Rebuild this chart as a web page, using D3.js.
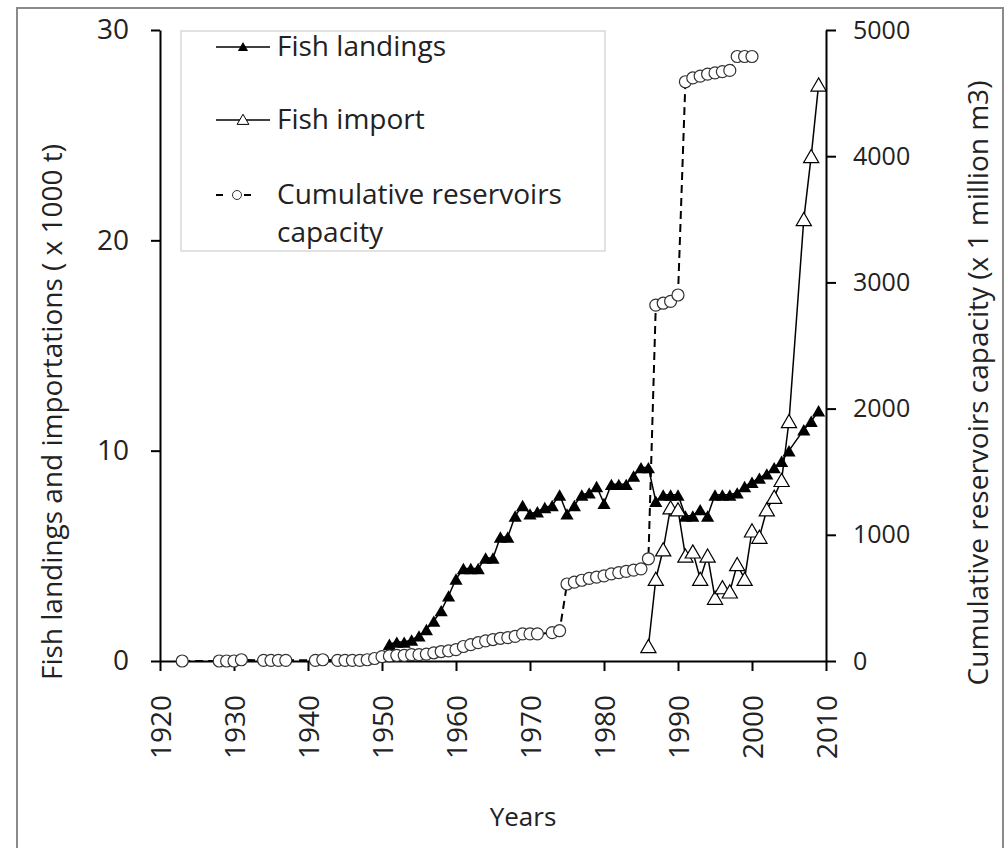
<!DOCTYPE html>
<html>
<head>
<meta charset="utf-8">
<script src="https://cdn.jsdelivr.net/npm/d3@7"></script>
<style>
  body { margin: 0; background: #fff; }
  svg text { font-family: "Open Sans", sans-serif; fill: #222; }
</style>
</head>
<body>
<div id="chart"></div>
<script>
// fish landings (x 1000 t), left axis
const landingYears = [1951, 1952, 1953, 1954, 1955, 1956, 1957, 1958, 1959, 1960,
	1961, 1962, 1963, 1964, 1965, 1966, 1967, 1968, 1969, 1970,
	1971, 1972, 1973, 1974, 1975, 1976, 1977, 1978, 1979, 1980,
	1981, 1982, 1983, 1984, 1985, 1986, 1987, 1988, 1989, 1990,
	1991, 1992, 1993, 1994, 1995, 1996, 1997, 1998, 1999, 2000,
	2001, 2002, 2003, 2004, 2005, 2007, 2008, 2009]
const landingValues = [0.8, 0.9, 0.9, 1.0, 1.2, 1.5, 1.9, 2.4, 3.1, 3.9,
	4.4, 4.4, 4.4, 4.9, 4.9, 5.9, 5.9, 6.9, 7.4, 7.0,
	7.1, 7.3, 7.4, 7.9, 7.0, 7.4, 7.9, 8.0, 8.3, 7.5,
	8.4, 8.4, 8.4, 8.8, 9.2, 9.2, 7.6, 7.9, 7.9, 7.9,
	6.9, 6.9, 7.2, 6.9, 7.9, 7.9, 7.9, 8.0, 8.3, 8.5,
	8.7, 8.9, 9.2, 9.5, 10.0, 11.0, 11.4, 11.9]

// fish import (x 1000 t), left axis
const importYears = [1986, 1987, 1988, 1989, 1990, 1991, 1992, 1993, 1994, 1995,
	1996, 1997, 1998, 1999, 2000, 2001, 2002, 2003, 2004, 2005,
	2007, 2008, 2009]
const importValues = [0.7, 3.9, 5.3, 7.3, 7.2, 5.0, 5.2, 3.9, 5.0, 3.0,
	3.5, 3.3, 4.6, 3.9, 6.2, 5.9, 7.2, 7.8, 8.6, 11.4,
	21.0, 24.0, 27.4]

// cumulative reservoirs capacity (x 1 million m3), right axis
const reservoirYears = [1923, 1928, 1929, 1930, 1931, 1934, 1935, 1936, 1937, 1941,
	1942, 1944, 1945, 1946, 1947, 1948, 1949, 1950, 1951, 1952,
	1953, 1954, 1955, 1956, 1957, 1958, 1959, 1960, 1961, 1962,
	1963, 1964, 1965, 1966, 1967, 1968, 1969, 1970, 1971, 1973,
	1974, 1975, 1976, 1977, 1978, 1979, 1980, 1981, 1982, 1983,
	1984, 1985, 1986, 1987, 1988, 1989, 1990, 1991, 1992, 1993,
	1994, 1995, 1996, 1997, 1998, 1999, 2000]
const reservoirValues = [0, 0, 0, 0, 10, 5, 5, 5, 5, 5,
	10, 5, 5, 5, 5, 10, 20, 35, 40, 45,
	45, 50, 50, 55, 65, 75, 80, 90, 115, 130,
	145, 160, 170, 180, 185, 195, 215, 215, 215, 225,
	240, 610, 625, 640, 655, 665, 675, 690, 700, 710,
	720, 730, 810, 2820, 2835, 2850, 2900, 4590, 4620, 4635,
	4650, 4660, 4670, 4680, 4790, 4790, 4790]

const yearTicks = [1920, 1930, 1940, 1950, 1960, 1970, 1980, 1990, 2000, 2010]
const leftTicks = [0, 10, 20, 30]
const rightTicks = [0, 1000, 2000, 3000, 4000, 5000]

const width = 1005
const height = 848

const svg = d3.select('#chart')
	.append('svg')
	.attr('width', width)
	.attr('height', height)

// outer frame
svg.append('rect')
	.attr('x', 17).attr('y', 8)
	.attr('width', 986).attr('height', 860)
	.attr('fill', 'none')
	.attr('stroke', '#8a8a8a')
	.attr('stroke-width', 2)

const x = d3.scaleLinear().domain([1920, 2010]).range([160, 826])
const yLeft = d3.scaleLinear().domain([0, 30]).range([661, 30])
const yRight = d3.scaleLinear().domain([0, 5000]).range([661, 30])

// axes
const gLeft = svg.append('g')
	.attr('transform', `translate(${x(1920)},0)`)
	.call(d3.axisLeft(yLeft).tickValues(leftTicks).tickSize(9).tickSizeOuter(0).tickPadding(22))
const gRight = svg.append('g')
	.attr('transform', `translate(${x(2010)},0)`)
	.call(d3.axisRight(yRight).tickValues(rightTicks).tickFormat(d3.format('d'))
		.tickSize(10).tickSizeOuter(0).tickPadding(17))
const gBottom = svg.append('g')
	.attr('transform', `translate(0,${yLeft(0)})`)
	.call(d3.axisBottom(x).tickValues(yearTicks).tickFormat(d3.format('d')).tickSize(10).tickSizeOuter(0))

;[gLeft, gRight, gBottom].forEach(g => {
	g.select('.domain').attr('stroke', '#000').attr('stroke-width', 2)
	g.selectAll('.tick line').attr('stroke', '#000').attr('stroke-width', 2)
	g.selectAll('text').attr('fill', '#222').attr('font-family', '"Open Sans", sans-serif')
})
gLeft.selectAll('text').attr('font-size', 28)
gRight.selectAll('text').attr('font-size', 25)
gBottom.selectAll('text')
	.attr('font-size', 28)
	.attr('text-anchor', 'end')
	.attr('transform', 'translate(0,34) rotate(-90)')
	.attr('x', 0).attr('y', 0).attr('dy', '0.36em')

// axis titles
svg.append('text')
	.attr('transform', 'translate(62,412) rotate(-90)')
	.attr('text-anchor', 'middle')
	.attr('font-size', 28)
	.text('Fish landings and importations ( x 1000 t)')
svg.append('text')
	.attr('transform', 'translate(988,383) rotate(-90)')
	.attr('text-anchor', 'middle')
	.attr('font-size', 28)
	.text('Cumulative reservoirs capacity (x 1 million m3)')
svg.append('text')
	.attr('x', 523).attr('y', 826)
	.attr('text-anchor', 'middle')
	.attr('font-size', 26)
	.text('Years')

const landings = landingYears.map((yr, i) => ({ yr, v: landingValues[i] }))
const imports = importYears.map((yr, i) => ({ yr, v: importValues[i] }))
const reservoirs = reservoirYears.map((yr, i) => ({ yr, v: reservoirValues[i] }))

const lineLeft = d3.line().x(d => x(d.yr)).y(d => yLeft(d.v))
const lineRight = d3.line().x(d => x(d.yr)).y(d => yRight(d.v))

const triFilled = d3.symbol().type(d3.symbolTriangle).size(75)
const triOpen = d3.symbol().type(d3.symbolTriangle).size(100)

// fish landings
svg.append('path')
	.datum(landings)
	.attr('d', lineLeft)
	.attr('fill', 'none')
	.attr('stroke', '#000')
	.attr('stroke-width', 1.5)
svg.append('g').selectAll('path')
	.data(landings)
	.enter()
	.append('path')
	.attr('d', triFilled)
	.attr('transform', d => `translate(${x(d.yr)},${yLeft(d.v) + 2})`)
	.attr('fill', '#000')

// fish import
svg.append('path')
	.datum(imports)
	.attr('d', lineLeft)
	.attr('fill', 'none')
	.attr('stroke', '#000')
	.attr('stroke-width', 1.5)
svg.append('g').selectAll('path')
	.data(imports)
	.enter()
	.append('path')
	.attr('d', triOpen)
	.attr('transform', d => `translate(${x(d.yr)},${yLeft(d.v) + 2})`)
	.attr('fill', '#fff')
	.attr('stroke', '#000')
	.attr('stroke-width', 1.2)

// reservoirs capacity
svg.append('path')
	.datum(reservoirs)
	.attr('d', lineRight)
	.attr('fill', 'none')
	.attr('stroke', '#000')
	.attr('stroke-width', 2)
	.attr('stroke-dasharray', '8,5')
svg.append('g').selectAll('circle')
	.data(reservoirs)
	.enter()
	.append('circle')
	.attr('cx', d => x(d.yr))
	.attr('cy', d => yRight(d.v))
	.attr('r', 6)
	.attr('fill', '#fff')
	.attr('stroke', '#333')
	.attr('stroke-width', 1.2)

// legend
const legend = svg.append('g')
legend.append('rect')
	.attr('x', 181).attr('y', 31)
	.attr('width', 424).attr('height', 220)
	.attr('fill', '#fff')
	.attr('stroke', '#d8d8d8')
	.attr('stroke-width', 1.5)

const legendRows = [
	{ y: 47, label: ['Fish landings'], kind: 'filled' },
	{ y: 120, label: ['Fish import'], kind: 'open' },
	{ y: 195, label: ['Cumulative reservoirs', 'capacity'], kind: 'circle' },
]
legendRows.forEach(row => {
	if (row.kind === 'circle') {
		// short dash, marker, short dash
		;[[216, 223], [244, 251]].forEach(([a, b]) => {
			legend.append('line')
				.attr('x1', a).attr('x2', b)
				.attr('y1', row.y).attr('y2', row.y)
				.attr('stroke', '#000').attr('stroke-width', 2)
		})
		legend.append('circle')
			.attr('cx', 237).attr('cy', row.y).attr('r', 4.5)
			.attr('fill', '#fff').attr('stroke', '#333').attr('stroke-width', 1)
	} else {
		legend.append('line')
			.attr('x1', 216).attr('x2', 270)
			.attr('y1', row.y).attr('y2', row.y)
			.attr('stroke', '#000')
			.attr('stroke-width', 1.5)
		legend.append('path')
			.attr('d', d3.symbol().type(d3.symbolTriangle).size(row.kind === 'filled' ? 45 : 60)())
			.attr('transform', `translate(243,${row.y + 1})`)
			.attr('fill', row.kind === 'filled' ? '#000' : '#fff')
			.attr('stroke', row.kind === 'filled' ? 'none' : '#000')
			.attr('stroke-width', 1)
	}
	row.label.forEach((t, i) => {
		legend.append('text')
			.attr('x', 277)
			.attr('y', row.y + 9 + i * 38)
			.attr('font-size', 28)
			.text(t)
	})
})
</script>
</body>
</html>
